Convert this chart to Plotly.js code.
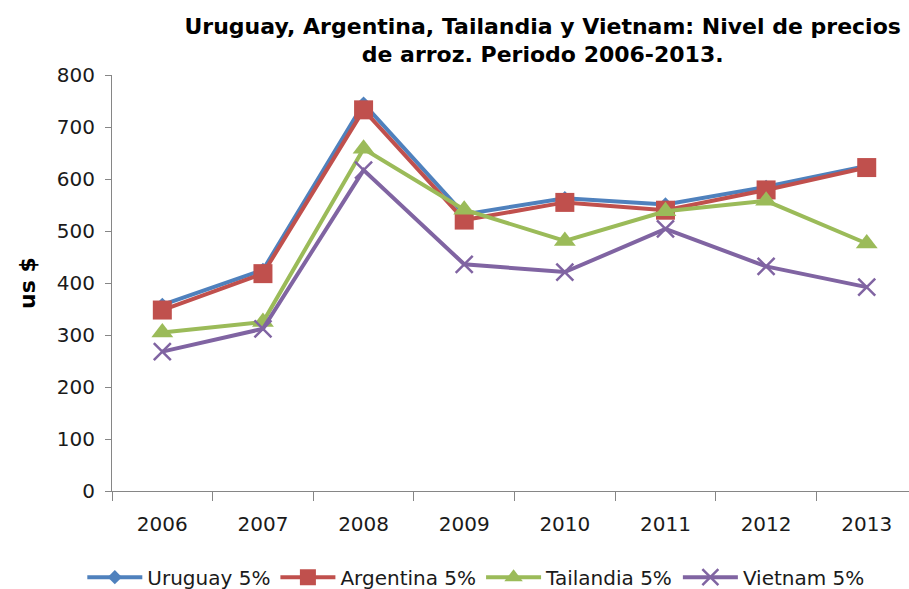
<!DOCTYPE html>
<html>
<head>
<meta charset="utf-8">
<script src="https://cdn.plot.ly/plotly-3.0.1.min.js"></script>
<style>html,body{margin:0;padding:0;background:#fff;}#chart{width:909px;height:589px;}</style>
</head>
<body>
<div id="chart"></div>
<script>
const years = ["2006","2007","2008","2009","2010","2011","2012","2013"];
const uruguay   = [358, 425, 745, 532, 563, 551, 585, 625];
const argentina = [348, 418, 733, 521, 555, 540, 579, 622];
const tailandia = [305, 325, 658, 541, 481, 538, 558, 476];
const vietnam   = [268, 312, 617, 436, 421, 504, 432, 392];
const seriesNames = ["Uruguay 5%", "Argentina 5%", "Tailandia 5%", "Vietnam 5%"];

const colors = ["#4F81BD", "#C0504D", "#9BBB59", "#8064A2"];
const symbols = ["diamond", "square", "triangle-up", "x-thin"];
const sizes = [11, 19, 19, 17];
const data = [uruguay, argentina, tailandia, vietnam].map((vals, i) => ({
  type: "scatter",
  mode: "lines+markers",
  x: years,
  y: vals,
  name: seriesNames[i],
  line: {color: colors[i], width: 4},
  marker: {symbol: symbols[i], size: sizes[i], color: colors[i],
           line: {color: colors[i], width: i === 3 ? 2.5 : 0}}
}));

const FONT = "DejaVu Sans, sans-serif";
const layout = {
  width: 909, height: 589,
  margin: {l: 111.6, r: 0, t: 74.7, b: 98.3},
  paper_bgcolor: "#fff", plot_bgcolor: "#fff",
  font: {family: FONT, color: "#1a1a1a"},
  title: {
    text: "<b>Uruguay, Argentina, Tailandia y Vietnam: Nivel de precios<br>de arroz. Periodo 2006-2013.</b>",
    font: {family: FONT, size: 22, color: "#000"},
    xref: "container", x: 0.597, xanchor: "center",
    yref: "container", y: 0.943, yanchor: "top"
  },
  xaxis: {
    type: "category",
    range: [-0.5, 7.42],
    showgrid: false, zeroline: false,
    showline: true, linecolor: "#868686", linewidth: 1,
    ticks: "outside", ticklen: 9, tickcolor: "#868686", tickson: "boundaries",
    tickfont: {size: 20, color: "#1a1a1a"},
    ticklabelstandoff: 15,
    fixedrange: true
  },
  yaxis: {
    range: [0, 800], dtick: 100,
    showgrid: false, zeroline: false,
    showline: true, linecolor: "#868686", linewidth: 1,
    ticks: "outside", ticklen: 6, tickcolor: "#868686",
    tickfont: {size: 20, color: "#1a1a1a"},
    ticklabelstandoff: 6,
    title: {text: "<b>us $</b>", font: {size: 22, color: "#000"}, standoff: 15}
  },
  legend: {
    orientation: "h",
    xref: "container", x: 0.524, xanchor: "center",
    yref: "container", y: 0.02, yanchor: "middle",
    font: {size: 20, color: "#1a1a1a"},
    itemwidth: 55, tracegroupgap: 0
  },
  showlegend: true
};

Plotly.newPlot("chart", data, layout, {displayModeBar: false, staticPlot: true});
</script>
</body>
</html>
